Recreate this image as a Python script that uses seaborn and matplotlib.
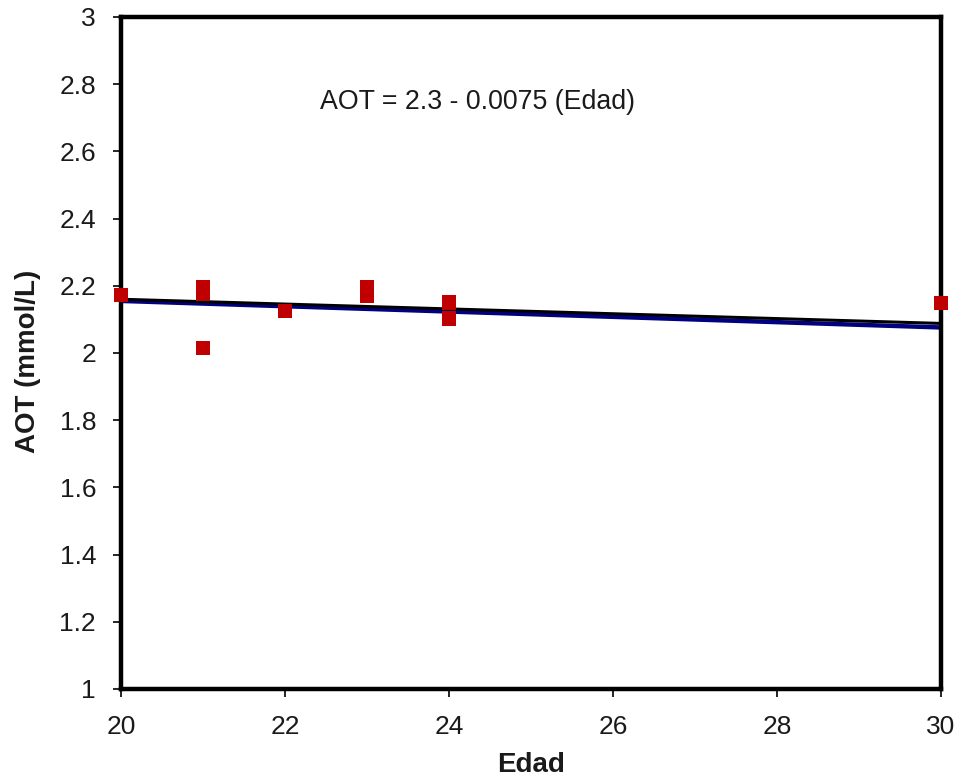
import matplotlib
matplotlib.use("Agg")
import matplotlib.pyplot as plt
import seaborn as sns
import pandas as pd

edad = [20, 21, 21, 21, 22, 23, 23, 24, 24, 30]
aot = [2.173, 2.195, 2.177, 2.015, 2.125, 2.195, 2.170, 2.150, 2.103, 2.149]

fit_x = [20, 30]
fit_black = [2.160, 2.088]
fit_blue = [2.155, 2.076]

x_ticks = [20, 22, 24, 26, 28, 30]
y_ticks = [1, 1.2, 1.4, 1.6, 1.8, 2, 2.2, 2.4, 2.6, 2.8, 3]
y_labels = ["1", "1.2", "1.4", "1.6", "1.8", "2", "2.2", "2.4", "2.6", "2.8", "3"]

sns.set_theme(style="white")
plt.rcParams['font.family'] = ['Liberation Sans', 'DejaVu Sans']

fig = plt.figure(figsize=(9.64, 7.82), dpi=100)
ax = fig.add_axes([121/964, 1-689/782, 820/964, 672/782])

df_pts = pd.DataFrame({"Edad": edad, "AOT": aot})
df_blue = pd.DataFrame({"Edad": fit_x, "AOT": fit_blue})
df_black = pd.DataFrame({"Edad": fit_x, "AOT": fit_black})

sns.lineplot(data=df_blue, x="Edad", y="AOT", color="#000080", linewidth=3.2, ax=ax, zorder=2)
sns.lineplot(data=df_black, x="Edad", y="AOT", color="black", linewidth=2.2, ax=ax, zorder=3)
sns.scatterplot(data=df_pts, x="Edad", y="AOT", marker="s", s=105, color="#C00000",
                edgecolor="none", linewidth=0, ax=ax, zorder=4, clip_on=False)

ax.set_xlim(20, 30)
ax.set_ylim(1, 3)
ax.set_xticks(x_ticks)
ax.set_xticklabels([str(t) for t in x_ticks])
ax.set_yticks(y_ticks)
ax.set_yticklabels(y_labels)
ax.tick_params(axis="both", direction="out", length=6, width=1.2, color="black",
               labelsize=19, labelcolor="#1a1a1a", bottom=True, left=True)
ax.tick_params(axis="y", pad=12)
ax.tick_params(axis="x", pad=13)

for sp in ax.spines.values():
    sp.set_linewidth(3.2)
    sp.set_color("black")

ax.set_xlabel("Edad", fontsize=20, fontweight="bold", color="#1a1a1a")
ax.set_ylabel("AOT (mmol/L)", fontsize=20, fontweight="bold", color="#1a1a1a")
ax.xaxis.set_label_coords(0.5, -0.094)
ax.yaxis.set_label_coords(-0.097, 0.487)

ax.text(0.243, 0.8735, "AOT = 2.3 - 0.0075 (Edad)", transform=ax.transAxes,
        fontsize=19.3, color="#1a1a1a", ha="left", va="center")

fig.savefig("out.png", dpi=100)
